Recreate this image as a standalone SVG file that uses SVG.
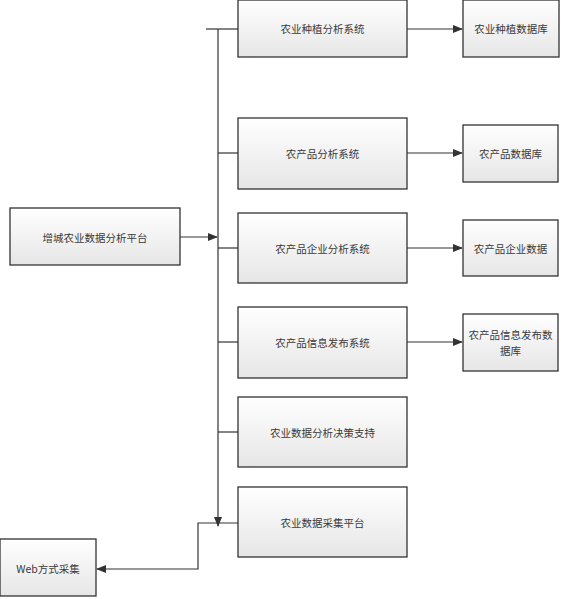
<svg xmlns="http://www.w3.org/2000/svg" width="561" height="599" viewBox="0 0 561 599">
<defs>
<linearGradient id="g" x1="0" y1="0" x2="0" y2="1">
<stop offset="0" stop-color="#ffffff"/>
<stop offset="1" stop-color="#e6e6e6"/>
</linearGradient>
<marker id="ah" markerWidth="10" markerHeight="8" refX="9" refY="4" orient="auto" markerUnits="userSpaceOnUse">
<path d="M0,0 L10,4 L0,8 Z" fill="#333"/>
</marker>
<style>
.box{fill:url(#g);stroke:#333;stroke-width:1.3}
.t{font-family:"Noto Sans CJK SC","Liberation Sans",sans-serif;font-size:10.5px;fill:#3a3a3a;text-anchor:middle;dominant-baseline:central}
.c{fill:none;stroke:#333;stroke-width:1.2}
</style>
</defs>
<rect width="561" height="599" fill="#fff"/>
<g id="connectors">
<path class="c" d="M206,29 H238"/>
<path class="c" d="M218,29 V526" marker-end="url(#ah)"/>
<path class="c" d="M218,153 H238"/>
<path class="c" d="M218,248 H238"/>
<path class="c" d="M218,342 H238"/>
<path class="c" d="M218,432 H238"/>
<path class="c" d="M180,237 H217" marker-end="url(#ah)"/>
<path class="c" d="M238,523 H198 V569 H97" marker-end="url(#ah)"/>
<path class="c" d="M407,29 H462" marker-end="url(#ah)"/>
<path class="c" d="M407,153 H462" marker-end="url(#ah)"/>
<path class="c" d="M407,248 H462" marker-end="url(#ah)"/>
<path class="c" d="M407,342 H462" marker-end="url(#ah)"/>
</g>
<g id="n1"><rect class="box" x="238" y="0" width="169" height="57"/><text class="t" x="322.5" y="28">农业种植分析系统</text></g>
<g id="n2"><rect class="box" x="463" y="0" width="96" height="57"/><text class="t" x="511" y="28">农业种植数据库</text></g>
<g id="n3"><rect class="box" x="238" y="118" width="169" height="71"/><text class="t" x="322.5" y="153">农产品分析系统</text></g>
<g id="n4"><rect class="box" x="463" y="125" width="95" height="57"/><text class="t" x="510.5" y="153">农产品数据库</text></g>
<g id="n5"><rect class="box" x="10" y="208" width="170" height="57"/><text class="t" x="95" y="237">增城农业数据分析平台</text></g>
<g id="n6"><rect class="box" x="238" y="213" width="169" height="70"/><text class="t" x="322.5" y="248">农产品企业分析系统</text></g>
<g id="n7"><rect class="box" x="463" y="220" width="95" height="56"/><text class="t" x="510.5" y="248">农产品企业数据</text></g>
<g id="n8"><rect class="box" x="238" y="307" width="169" height="71"/><text class="t" x="322.5" y="342">农产品信息发布系统</text></g>
<g id="n9"><rect class="box" x="463" y="314" width="95" height="57"/><text class="t" x="510.5" y="334">农产品信息发布数</text><text class="t" x="510.5" y="350">据库</text></g>
<g id="n10"><rect class="box" x="238" y="397" width="169" height="70"/><text class="t" x="322.5" y="432">农业数据分析决策支持</text></g>
<g id="n11"><rect class="box" x="238" y="487" width="169" height="70"/><text class="t" x="322.5" y="522">农业数据采集平台</text></g>
<g id="n12"><rect class="box" x="0" y="539" width="96" height="57"/><text class="t" x="48" y="568">Web方式采集</text></g>
</svg>
